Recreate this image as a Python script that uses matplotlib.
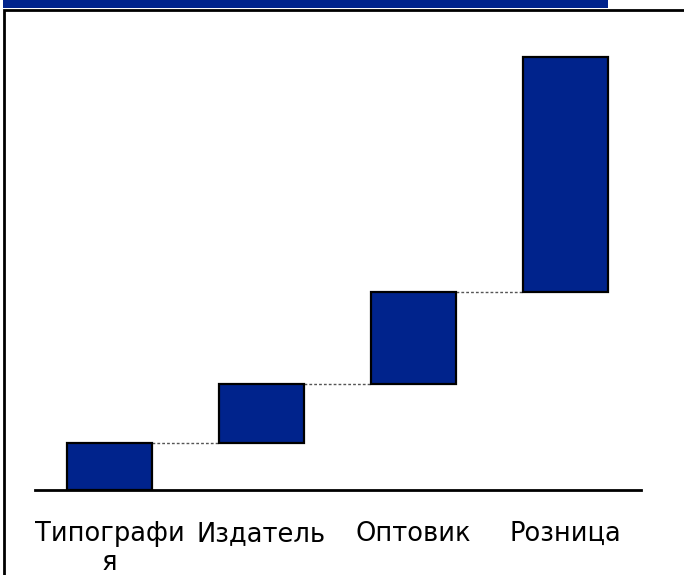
import matplotlib.pyplot as plt
from matplotlib.patches import Rectangle
import numpy as np

# Вклад каждого звена в цену книги
categories = ['Типографи\nя', 'Издатель', 'Оптовик', 'Розница']
values = [10, 12.5, 19.5, 50]

bar_color = '#00238c'

fig = plt.figure(figsize=(6.84, 5.75), dpi=100)

# синяя полоса сверху и рамка слайда
fig.patches.append(Rectangle((3 / 684, 1 - 8 / 575), 605 / 684, 8 / 575,
                             transform=fig.transFigure, facecolor=bar_color,
                             edgecolor='none'))
fig.patches.append(Rectangle((4 / 684, -0.1), 1.0, 1 - 9.5 / 575 + 0.1,
                             transform=fig.transFigure, facecolor='none',
                             edgecolor='black', linewidth=2))

ax = fig.add_axes([35 / 684, 1 - 490 / 575, 606 / 684, 460 / 575])

x = np.arange(len(values))
bottoms = np.concatenate([[0], np.cumsum(values)[:-1]])
tops = bottoms + np.array(values)
width = 0.56

ax.bar(x, values, bottom=bottoms, width=width, color=bar_color,
       edgecolor='black', linewidth=1.6, zorder=3)

# пунктирные соединители между ступенями
for i in range(len(values) - 1):
    ax.plot([x[i] + width / 2, x[i + 1] - width / 2], [tops[i], tops[i]],
            color='#555555', linestyle=(0, (2, 1.5)), linewidth=1, zorder=2)

ax.set_xlim(-0.49, 3.5)
ax.set_ylim(0, sum(values) * 460 / 433)

ax.set_xticks(x)
ax.set_xticklabels(categories, fontsize=18.5, linespacing=1.15)
ax.tick_params(axis='x', length=0, pad=22)
ax.set_yticks([])
for side in ['top', 'right', 'left']:
    ax.spines[side].set_visible(False)
ax.spines['bottom'].set_linewidth(2)
ax.patch.set_alpha(0)

fig.savefig('out.png', dpi=100)
